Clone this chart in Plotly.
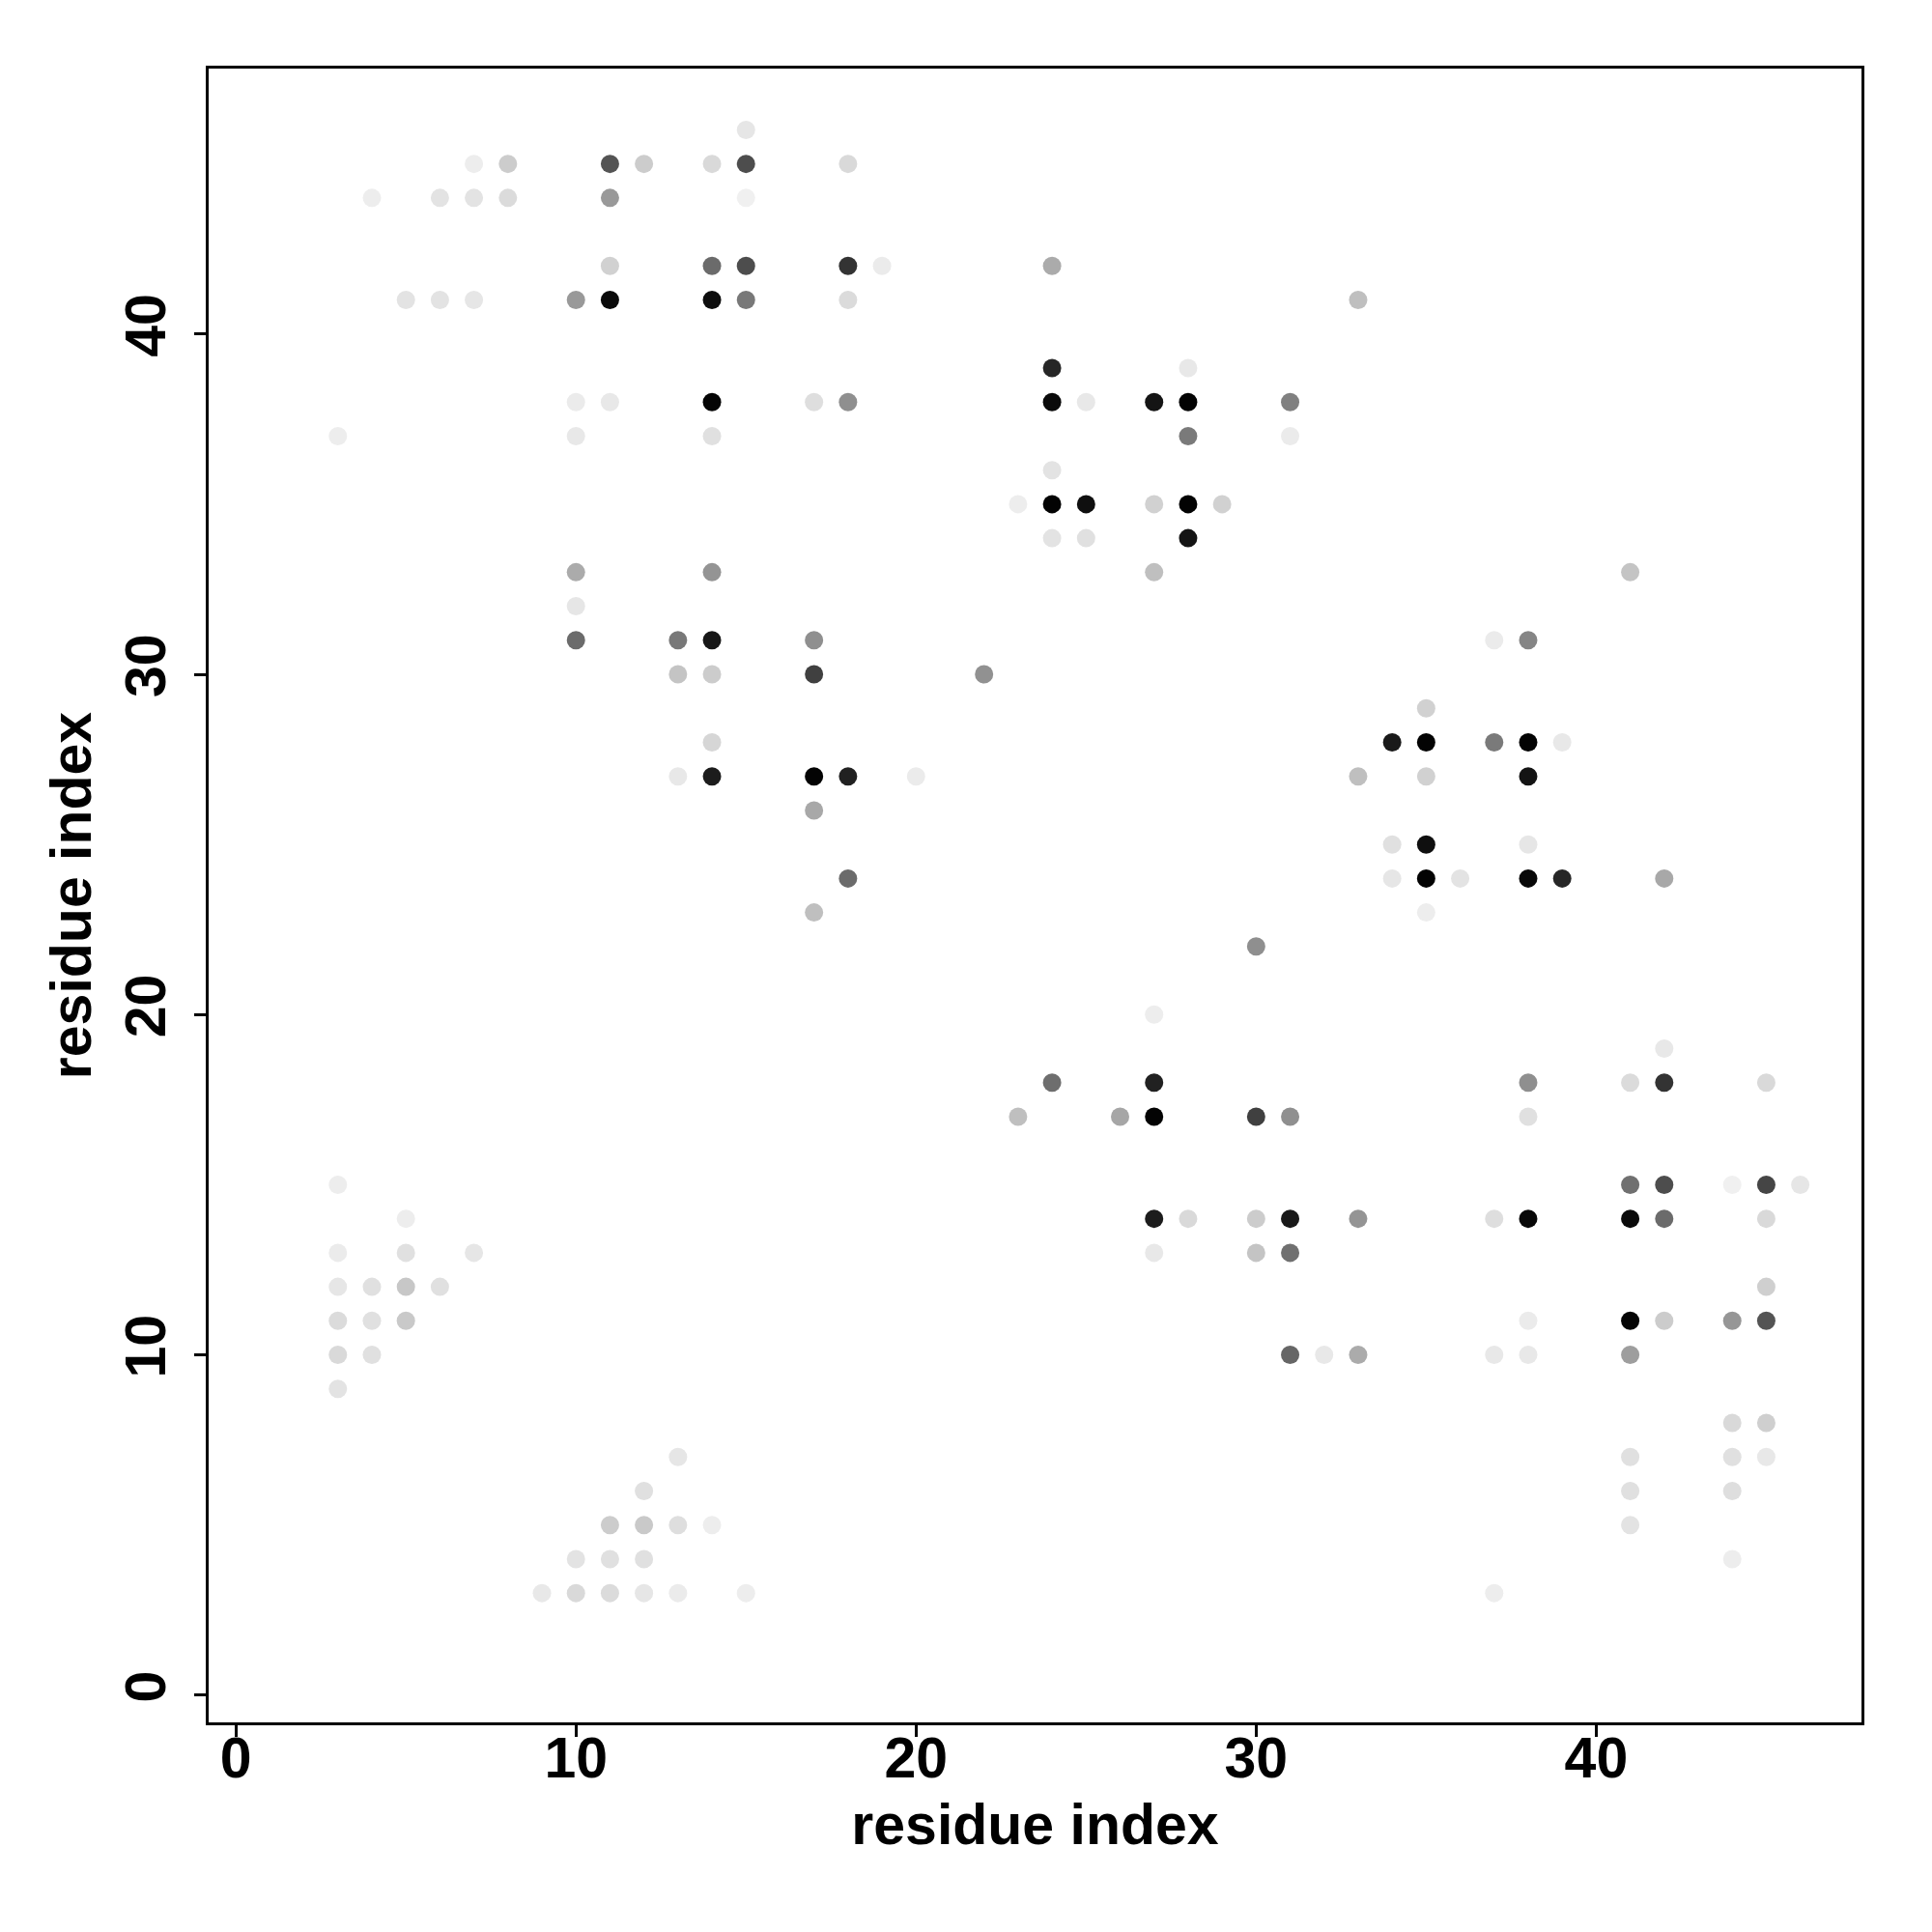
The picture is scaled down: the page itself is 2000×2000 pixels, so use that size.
import plotly.graph_objects as go

# residue pair contacts: (i, j, strength)  strength 0 = white, 1 = black
res_i = [15,
         7, 8, 11, 12, 14, 15, 18,
         4, 6, 7, 8, 11, 15,
         11, 14, 15, 18, 19, 24,
         5, 6, 7, 10, 11, 14, 15, 18, 33,
         24, 28,
         10, 11, 14, 17, 18, 24, 25, 27, 28, 31,
         3, 10, 14, 28, 31,
         24,
         23, 24, 25, 27, 28, 29,
         24, 25, 28,
         10, 14, 27, 41,
         10,
         10, 13, 14, 17, 37, 38,
         13, 14, 17, 22,
         35,
         14, 34, 35, 37, 38, 39,
         13, 14, 17, 18, 20, 33, 35, 38,
         17,
         34, 35, 38,
         18, 34, 35, 36, 38, 39, 42,
         17, 35,
         30,
         27,
         42,
         24, 27, 38, 41, 42, 45,
         23, 26, 27, 30, 31, 38,
         3, 41, 42, 44, 45, 46,
         5, 27, 28, 30, 31, 33, 37, 38, 41, 42, 45,
         3, 5, 7, 27, 30, 31,
         3, 4, 5, 6, 45,
         3, 4, 5, 38, 41, 42, 44, 45,
         3, 4, 31, 32, 33, 37, 38, 41,
         3,
         44, 45,
         13, 41, 44, 45,
         12, 41, 44,
         11, 12, 13, 14, 41,
         10, 11, 12, 44,
         9, 10, 11, 12, 13, 15, 37]

res_j = [46,
         45, 45, 45, 45, 45, 45, 45,
         44, 44, 44, 44, 44, 44,
         42, 42, 42, 42, 42, 42,
         41, 41, 41, 41, 41, 41, 41, 41, 41,
         39, 39,
         38, 38, 38, 38, 38, 38, 38, 38, 38, 38,
         37, 37, 37, 37, 37,
         36,
         35, 35, 35, 35, 35, 35,
         34, 34, 34,
         33, 33, 33, 33,
         32,
         31, 31, 31, 31, 31, 31,
         30, 30, 30, 30,
         29,
         28, 28, 28, 28, 28, 28,
         27, 27, 27, 27, 27, 27, 27, 27,
         26,
         25, 25, 25,
         24, 24, 24, 24, 24, 24, 24,
         23, 23,
         22,
         20,
         19,
         18, 18, 18, 18, 18, 18,
         17, 17, 17, 17, 17, 17,
         15, 15, 15, 15, 15, 15,
         14, 14, 14, 14, 14, 14, 14, 14, 14, 14, 14,
         13, 13, 13, 13, 13, 13,
         12, 12, 12, 12, 12,
         11, 11, 11, 11, 11, 11, 11, 11,
         10, 10, 10, 10, 10, 10, 10, 10,
         9,
         8, 8,
         7, 7, 7, 7,
         6, 6, 6,
         5, 5, 5, 5, 5,
         4, 4, 4, 4,
         3, 3, 3, 3, 3, 3, 3]

strength = [0.10,
            0.07, 0.20, 0.67, 0.20, 0.15, 0.70, 0.15,
            0.07, 0.11, 0.11, 0.14, 0.40, 0.06,
            0.18, 0.58, 0.70, 0.80, 0.08, 0.33,
            0.11, 0.11, 0.10, 0.40, 0.96, 0.95, 0.53, 0.14, 0.25,
            0.85, 0.09,
            0.08, 0.09, 0.98, 0.13, 0.44, 0.96, 0.09, 0.92, 0.99, 0.50,
            0.07, 0.09, 0.12, 0.52, 0.08,
            0.11,
            0.07, 0.99, 0.94, 0.18, 0.99, 0.18,
            0.11, 0.12, 0.92,
            0.33, 0.42, 0.25, 0.23,
            0.10,
            0.58, 0.53, 0.91, 0.44, 0.08, 0.48,
            0.23, 0.20, 0.75, 0.43,
            0.18,
            0.16, 0.90, 0.99, 0.52, 0.99, 0.09,
            0.09, 0.89, 0.99, 0.87, 0.08, 0.25, 0.18, 0.92,
            0.34,
            0.12, 0.94, 0.10,
            0.58, 0.10, 0.99, 0.11, 0.97, 0.85, 0.34,
            0.25, 0.07,
            0.44,
            0.07,
            0.09,
            0.57, 0.87, 0.44, 0.14, 0.80, 0.15,
            0.25, 0.35, 0.99, 0.75, 0.44, 0.12,
            0.07, 0.56, 0.70, 0.06, 0.73, 0.10,
            0.07, 0.89, 0.15, 0.20, 0.90, 0.42, 0.13, 0.97, 0.96, 0.58, 0.15,
            0.08, 0.12, 0.10, 0.09, 0.23, 0.56,
            0.10, 0.12, 0.22, 0.12, 0.19,
            0.14, 0.12, 0.21, 0.08, 0.98, 0.20, 0.41, 0.67,
            0.15, 0.12, 0.60, 0.09, 0.33, 0.09, 0.09, 0.38,
            0.11,
            0.15, 0.19,
            0.10, 0.12, 0.12, 0.09,
            0.12, 0.12, 0.13,
            0.20, 0.21, 0.13, 0.07, 0.11,
            0.11, 0.12, 0.12, 0.07,
            0.09, 0.15, 0.14, 0.10, 0.08, 0.07, 0.07]

tick_vals = [0, 10, 20, 30, 40]
axis_title = "residue index"

FONT = "Liberation Sans"

fig = go.Figure(go.Scatter(
    x=res_i, y=res_j, mode="markers",
    marker=dict(size=19, color=strength, cmin=0, cmax=1,
                colorscale=[[0, "#ffffff"], [1, "#000000"]],
                line=dict(width=0), showscale=False),
    hoverinfo="x+y",
))

common = dict(
    range=[-0.8, 47.8], tickvals=tick_vals, ticktext=[str(v) for v in tick_vals],
    showgrid=False, zeroline=False,
    showline=True, mirror=True, linecolor="black", linewidth=3,
    ticks="outside", ticklen=12, tickwidth=3, tickcolor="black",
    tickfont=dict(family=FONT, size=59, color="black", weight="bold"),
)
title_font = dict(family=FONT, size=59, color="black", weight="bold")

fig.update_layout(
    width=2000, height=2000,
    margin=dict(l=208, r=81, t=63, b=225),
    paper_bgcolor="white", plot_bgcolor="white",
    showlegend=False,
    xaxis=dict(**common, ticklabelstandoff=-29,
               title=dict(text=axis_title, standoff=16, font=title_font)),
    yaxis=dict(**common, tickangle=-90, ticklabelstandoff=6,
               title=dict(text=axis_title, standoff=5, font=title_font)),
)

fig.write_html("out.html")
